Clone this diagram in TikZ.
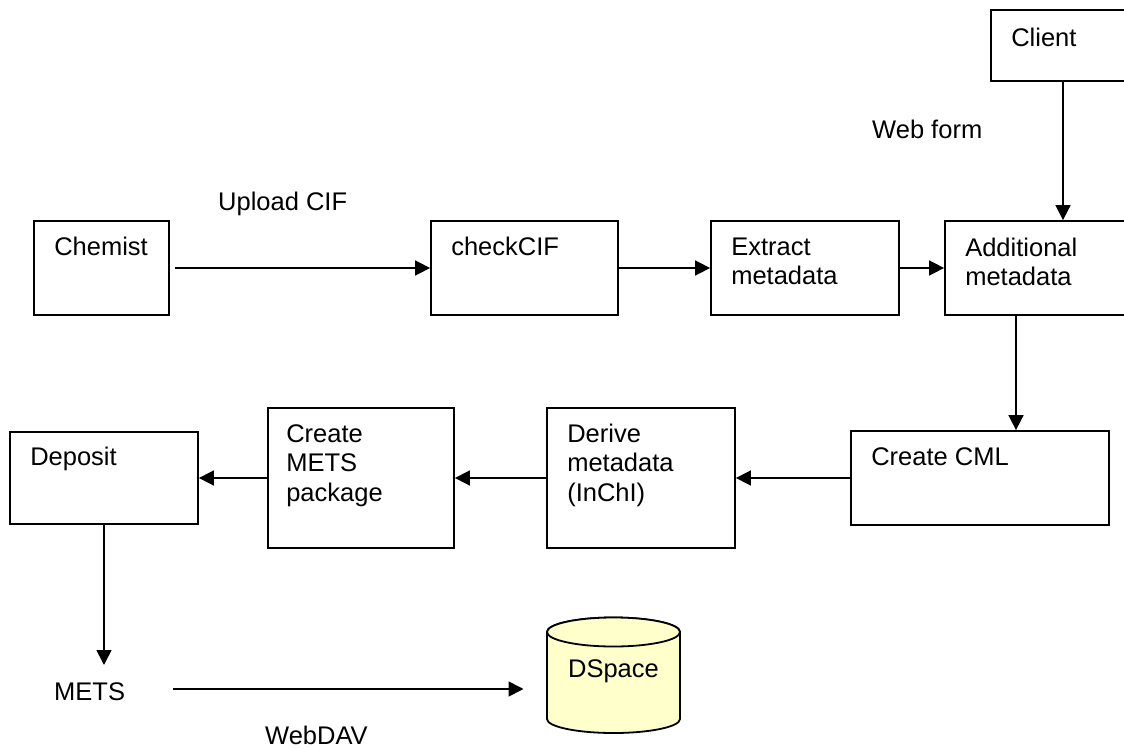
\documentclass[tikz,border=0pt]{standalone}
\usepackage{fontspec}
\setmainfont{Liberation Sans}
\usetikzlibrary{arrows.meta}
\newcommand\mainfs{\fontsize{25.5pt}{29.5pt}\selectfont}
\newcommand\firstln{\rule{0pt}{19pt}}
\definecolor{dsfill}{HTML}{FFFFCC}
\begin{document}
\begin{tikzpicture}[x=1pt,y=-1pt,
  box/.style={draw, line width=1.8pt, inner sep=0pt},
  txt/.style={anchor=north west, inner sep=0pt, align=left, font=\mainfs},
  lbl/.style={anchor=base west, inner sep=0pt, font=\mainfs},
  arr/.style={-{Triangle[length=15pt,width=15pt]}, line width=1.7pt}]
\useasboundingbox[fill=white] (0,0) rectangle (1124,749);

% top row
\node[box, minimum width=144pt, minimum height=71pt] (client) at (1063,45.5) {};
\node[box, minimum width=135pt, minimum height=94pt] (chemist) at (101.5,268) {};
\node[box, minimum width=187pt, minimum height=94pt] (checkcif) at (524.5,268) {};
\node[box, minimum width=188pt, minimum height=94pt] (extract) at (805,268) {};
\node[box, minimum width=190pt, minimum height=94pt] (additional) at (1040,268) {};

% second row
\node[box, minimum width=188pt, minimum height=92pt] (deposit) at (104,478) {};
\node[box, minimum width=186pt, minimum height=140pt] (createmets) at (361,478) {};
\node[box, minimum width=188pt, minimum height=140pt] (derive) at (641,478) {};
\node[box, minimum width=258pt, minimum height=94pt] (createcml) at (980,478) {};

% box texts
\node[txt] (clientT) at ([shift={(21pt,-18pt)}]client.north west) {\firstln Client};
\node[txt] (chemistT) at ([shift={(21pt,-16pt)}]chemist.north west) {\firstln Chemist};
\node[txt] (checkcifT) at ([shift={(21pt,-16pt)}]checkcif.north west) {\firstln checkCIF};
\node[txt] (extractT) at ([shift={(21pt,-16pt)}]extract.north west) {\firstln Extract\\metadata};
\node[txt] (additionalT) at ([shift={(21pt,-17pt)}]additional.north west) {\firstln Additional\\metadata};
\node[txt] (depositT) at ([shift={(21pt,-15pt)}]deposit.north west) {\firstln Deposit};
\node[txt] (createmetsT) at ([shift={(19pt,-16pt)}]createmets.north west) {\firstln Create\\METS\\package};
\node[txt] (deriveT) at ([shift={(21pt,-16pt)}]derive.north west) {\firstln Derive\\metadata\\(InChI)};
\node[txt] (createcmlT) at ([shift={(21pt,-16pt)}]createcml.north west) {\firstln Create CML};

% free labels
\node[lbl] (uploadT) at (218,210) {Upload CIF};
\node[lbl] (webformT) at (872,139) {Web form};
\node[lbl] (webdavT) at (265,744) {WebDAV};
\node[txt] (metsT) at (54,681) {\firstln METS};

% DSpace cylinder
\path[fill=dsfill, draw, line width=1.8pt] (547,632) -- (547,719)
  arc[start angle=180, end angle=360, x radius=66.5pt, y radius=14pt]
  -- (680,632)
  arc[start angle=0, end angle=180, x radius=66.5pt, y radius=14.5pt] -- cycle;
\draw[fill=dsfill, line width=1.8pt] (613.5,632) ellipse[x radius=66.5pt, y radius=14.5pt];
\node[anchor=base, inner sep=0pt, font=\mainfs] (dspaceT) at (613.5,677) {DSpace};
\coordinate (dspaceW) at (523.5,689);
\coordinate (vx) at (1016,0);

% connectors
\draw[arr, shorten <=5pt] (chemist.east) -- (checkcif.west);
\draw[arr] (checkcif.east) -- (extract.west);
\draw[arr] (extract.east) -- (additional.west);
\draw[arr] (client.south) -- (client.south |- additional.north);
\draw[arr] (additional.south -| vx) -- (createcml.north -| vx);
\draw[arr] (createcml.west) -- (derive.east);
\draw[arr] (derive.west) -- (createmets.east);
\draw[arr] (createmets.west) -- (deposit.east);
\draw[arr, shorten >=16pt] (deposit.south) -- (deposit.south |- metsT.north);
\draw[arr, shorten <=48pt] (metsT.east |- dspaceW) -- (dspaceW);
\end{tikzpicture}
\end{document}
